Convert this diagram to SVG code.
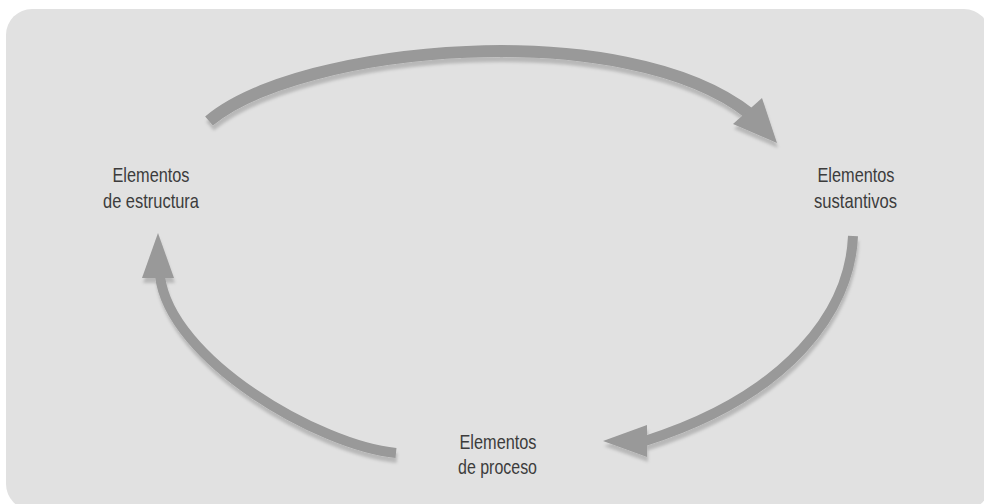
<svg xmlns="http://www.w3.org/2000/svg" width="984" height="504" viewBox="0 0 984 504">
<defs>
<filter id="sh" x="-10%" y="-10%" width="120%" height="130%">
<feDropShadow dx="1" dy="5" stdDeviation="1.8" flood-color="#000" flood-opacity="0.18"/>
</filter>
<style>
.shaft{fill:none;stroke:#999999;stroke-linecap:butt}
.head{fill:#999999}
.lbl{font-family:"Liberation Sans","DejaVu Sans",sans-serif;font-size:21px;fill:#3c3c3c;text-anchor:middle}
</style>
</defs>
<rect x="6" y="9" width="984" height="501" rx="26" fill="#e1e1e1"/>
<g id="connectors" filter="url(#sh)">
<g id="arrow-top">
<path class="shaft" stroke-width="12" d="M209,121 C300,45 625,15 750,114"/>
<polygon class="head" points="777,143 733,124 762,98"/>
</g>
<g id="arrow-right">
<path class="shaft" stroke-width="10" d="M853,236 C850,310 790,395 645,441"/>
<polygon class="head" points="603,441 647,425 647,457"/>
</g>
<g id="arrow-left">
<path class="shaft" stroke-width="10" d="M396,453 C320,446 170,360 160,276"/>
<polygon class="head" points="158,233 174,278 142,278"/>
</g>
</g>
<g id="node-estructura">
<text class="lbl" x="151" y="182" textLength="77" lengthAdjust="spacingAndGlyphs">Elementos</text>
<text class="lbl" x="151" y="208" textLength="96" lengthAdjust="spacingAndGlyphs">de estructura</text>
</g>
<g id="node-sustantivos">
<text class="lbl" x="856" y="182" textLength="77" lengthAdjust="spacingAndGlyphs">Elementos</text>
<text class="lbl" x="855.5" y="208" textLength="83" lengthAdjust="spacingAndGlyphs">sustantivos</text>
</g>
<g id="node-proceso">
<text class="lbl" x="498" y="449" textLength="77" lengthAdjust="spacingAndGlyphs">Elementos</text>
<text class="lbl" x="497.5" y="474" textLength="79" lengthAdjust="spacingAndGlyphs">de proceso</text>
</g>
</svg>
